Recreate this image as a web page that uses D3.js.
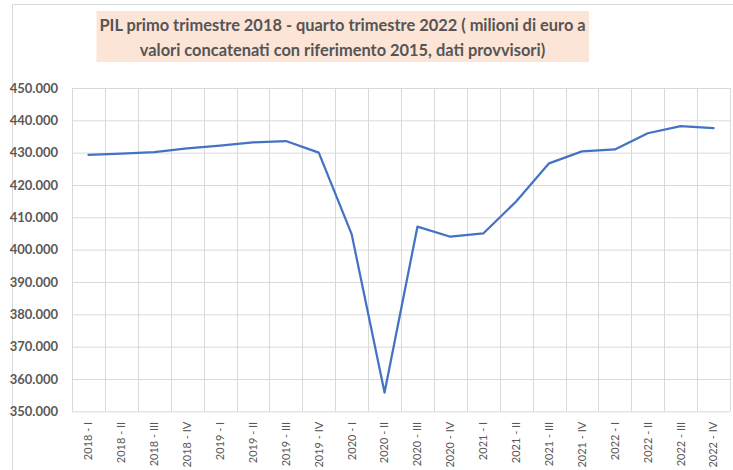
<!DOCTYPE html>
<html>
<head>
<meta charset="utf-8">
<script src="https://cdn.jsdelivr.net/npm/d3@7"></script>
<style>
  body { margin: 0; background: #fff; }
  svg { display: block; font-family: Lato, "Liberation Sans", sans-serif; }
</style>
</head>
<body>
<svg class="chart" width="733" height="470"></svg>
<script>
// PIL trimestrale, milioni di euro
var quarters = ["2018 - I", "2018 - II", "2018 - III", "2018 - IV",
                "2019 - I", "2019 - II", "2019 - III", "2019 - IV",
                "2020 - I", "2020 - II", "2020 - III", "2020 - IV",
                "2021 - I", "2021 - II", "2021 - III", "2021 - IV",
                "2022 - I", "2022 - II", "2022 - III", "2022 - IV"];
var pil = [429350, 429700, 430150, 431300,
           432200, 433200, 433600, 430000,
           404800, 355800, 407100, 404000,
           405000, 414900, 426700, 430400,
           431000, 436000, 438200, 437600];
var yTicks = [350000, 360000, 370000, 380000, 390000, 400000,
              410000, 420000, 430000, 440000, 450000];
var titleLines = ["PIL primo trimestre 2018 - quarto trimestre 2022 ( milioni di euro a",
                  "valori concatenati con riferimento 2015, dati provvisori)"];

var svg = d3.select(".chart"),
    margin = {top: 88, right: 3, bottom: 58.7, left: 72},
    width = +svg.attr("width") - margin.left - margin.right,
    height = +svg.attr("height") - margin.top - margin.bottom;

var itLocale = d3.formatLocale({decimal: ",", thousands: ".", grouping: [3], currency: ["", "€"]});
var fmt = itLocale.format(",d");

var x = d3.scaleBand().domain(quarters).range([0, width]).paddingInner(0).paddingOuter(0),
    y = d3.scaleLinear().domain([350000, 450000]).range([height, 0]);

// chart area border (only top and left visible)
svg.append("path")
    .attr("d", "M12.5,470V4.5H733")
    .attr("fill", "none")
    .attr("stroke", "#d9d9d9");

// title box
var tb = svg.append("g").attr("class", "title");
tb.append("rect")
    .attr("x", 96.5).attr("y", 11)
    .attr("width", 492.5).attr("height", 51)
    .attr("fill", "#fce4d6");
tb.selectAll("text")
    .data(titleLines)
    .enter().append("text")
        .attr("x", 342.5)
        .attr("y", function(d, i) { return 30.7 + i * 25.3; })
        .attr("text-anchor", "middle")
        .attr("font-size", "16.4px")
        .attr("font-weight", "bold")
        .attr("fill", "#555555")
        .text(function(d) { return d; });

var g = svg.append("g")
    .attr("transform", "translate(" + margin.left + "," + margin.top + ")");

// horizontal grid + y labels
g.append("g")
    .attr("class", "axis axis--y")
    .call(d3.axisLeft(y).tickValues(yTicks).tickFormat(fmt).tickSizeInner(-width).tickSizeOuter(0).tickPadding(14))
    .call(function(a) {
        a.select(".domain").remove();
        a.selectAll("line").attr("stroke", "#d9d9d9");
        a.selectAll("text")
            .attr("fill", "#595959")
            .attr("font-size", "13px")
            .attr("font-weight", "bold")
            .attr("font-family", "Lato, 'Liberation Sans', sans-serif");
    });

// vertical grid at category boundaries
var edges = quarters.map(function(q) { return x(q); }).concat([width]);
g.append("g")
    .attr("class", "grid--x")
    .selectAll("line")
    .data(edges)
    .enter().append("line")
        .attr("x1", function(d) { return Math.round(d) + 0.5; })
        .attr("x2", function(d) { return Math.round(d) + 0.5; })
        .attr("y1", 0)
        .attr("y2", height)
        .attr("stroke", "#d9d9d9");

// x labels
g.append("g")
    .attr("class", "axis axis--x")
    .attr("transform", "translate(0," + height + ")")
    .call(d3.axisBottom(x).tickSize(0))
    .call(function(a) {
        a.select(".domain").remove();
        a.selectAll("text")
            .attr("transform", "rotate(-90)")
            .attr("x", -10.5)
            .attr("y", 0)
            .attr("dy", "0.35em")
            .attr("text-anchor", "end")
            .attr("fill", "#595959")
            .attr("font-size", "11px")
            .attr("font-family", "Lato, 'Liberation Sans', sans-serif");
    });

// line
var line = d3.line()
    .x(function(d, i) { return x(quarters[i]) + x.bandwidth() / 2; })
    .y(function(d) { return y(d); });

g.append("path")
    .datum(pil)
    .attr("fill", "none")
    .attr("stroke", "#4472c4")
    .attr("stroke-width", 2.25)
    .attr("stroke-linejoin", "round")
    .attr("stroke-linecap", "round")
    .attr("d", line);
</script>
</body>
</html>
